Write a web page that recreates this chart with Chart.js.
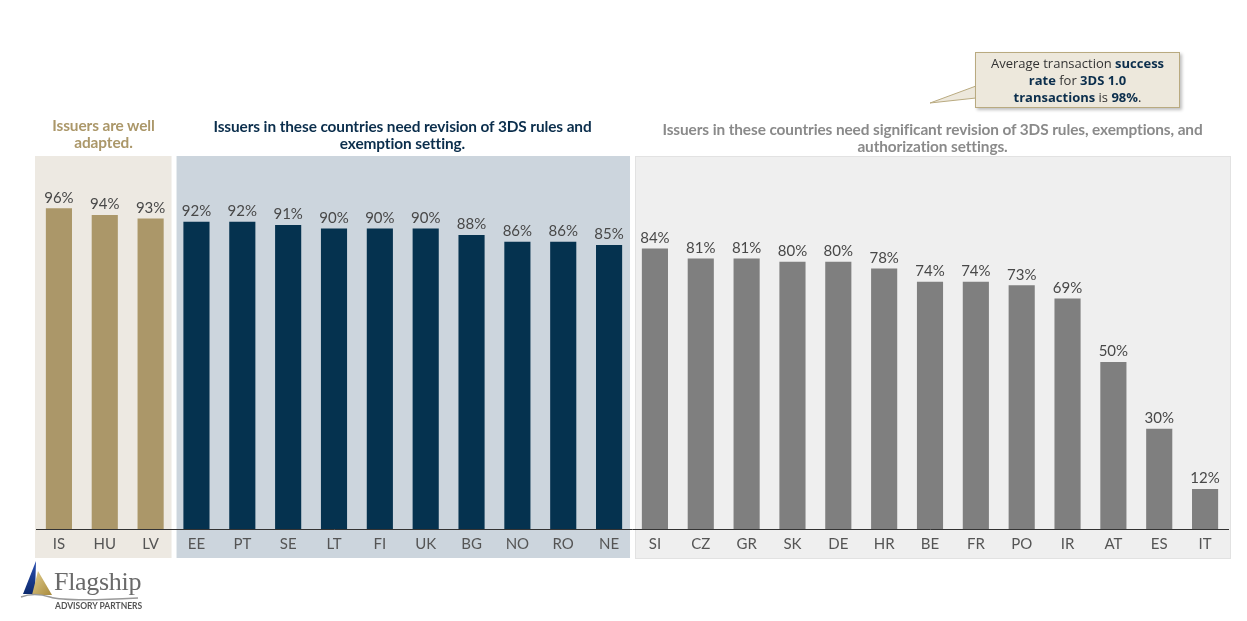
<!DOCTYPE html>
<html>
<head>
<meta charset="utf-8">
<script src="https://cdn.jsdelivr.net/npm/chart.js@4/dist/chart.umd.min.js"></script>
<style>
  body { margin:0; background:#fff; width:1247px; height:621px; position:relative; overflow:hidden; font-family: Lato, sans-serif; }
  #wrap { position:absolute; left:0; top:0; width:1247px; height:621px; }
  .title { position:absolute; font-family: Lato, sans-serif; font-weight:bold; font-size:15.4px; line-height:17px; text-align:center; letter-spacing:-0.1px; }
  #callout { position:absolute; left:975px; top:52px; width:205px; height:56px; background:#ede8dc; border:1px solid #b9aa80; box-shadow:2px 2px 3px rgba(0,0,0,0.25); font-family:"Open Sans", sans-serif; font-size:13px; line-height:17px; text-align:center; color:#333; padding-top:2px; box-sizing:border-box; }
  #callout b { color:#0b2e4c; }
  #logo { position:absolute; left:20px; top:560px; width:130px; height:60px; }
  #logo .name { position:absolute; left:34px; top:7px; font-family:"Liberation Serif", "DejaVu Serif", serif; font-size:26px; color:#6a6a6a; letter-spacing:-0.3px; }
  #logo .sub { position:absolute; left:35px; top:41px; font-family:Lato, sans-serif; font-weight:bold; font-size:8.5px; color:#555; }
</style>
</head>
<body>
<div id="wrap"><canvas id="grafico" width="1247" height="621"></canvas></div>

<div class="title" style="left:25px; top:117px; width:157px; color:#ab9769;">Issuers are well<br>adapted.</div>
<div class="title" style="left:170px; top:118px; width:465px; color:#0b2e4c;">Issuers in these countries need revision of 3DS rules and<br>exemption setting.</div>
<div class="title" style="left:620px; top:121px; width:625px; color:#8a8a8a;">Issuers in these countries need significant revision of 3DS rules, exemptions, and<br>authorization settings.</div>

<svg style="position:absolute;left:0;top:0" width="1247" height="621">
  <polygon points="976,86 930,103 976,98" fill="#ede8dc" stroke="#b9aa80" stroke-width="1"/>
</svg>
<div id="callout">Average transaction <b>success</b><br><b>rate</b> for <b>3DS 1.0</b><br><b>transactions</b> is <b>98%</b>.</div>

<div id="logo">
  <svg width="130" height="45" style="position:absolute;left:0;top:0">
    <defs>
      <linearGradient id="oro" x1="0" y1="0" x2="1" y2="1">
        <stop offset="0" stop-color="#e3cf8f"/><stop offset="1" stop-color="#a88a3c"/>
      </linearGradient>
      <linearGradient id="azul" x1="0" y1="0" x2="0" y2="1">
        <stop offset="0" stop-color="#2a4fb0"/><stop offset="1" stop-color="#0d2a6e"/>
      </linearGradient>
    </defs>
    <polygon points="16,1 3,34 15,34" fill="url(#azul)"/>
    <polygon points="18,11 32,35 12,35" fill="url(#oro)"/>
    <path d="M1,37 Q14,32 30,37 T118,38" stroke="#999" stroke-width="1.5" fill="none"/>
  </svg>
  <div class="name">Flagship</div>
  <div class="sub">ADVISORY PARTNERS</div>
</div>

<script>
const paises = ["IS","HU","LV","EE","PT","SE","LT","FI","UK","BG","NO","RO","NE","SI","CZ","GR","SK","DE","HR","BE","FR","PO","IR","AT","ES","IT"];
const tasas = [96,94,93,92,92,91,90,90,90,88,86,86,85,84,81,81,80,80,78,74,74,73,69,50,30,12];
const grupos = [0,0,0,1,1,1,1,1,1,1,1,1,1,2,2,2,2,2,2,2,2,2,2,2,2,2];
const coloresBarra = ["#ab9769","#05324f","#7f7f7f"];
const coloresFondo = ["#ede9e2","#ccd5dd","#efefef"];

// fondos de cada grupo
const fondos = {
  id: "fondos",
  beforeDraw(chart) {
    const ctx = chart.ctx;
    const x = chart.scales.x;
    const paso = x.getPixelForValue(1) - x.getPixelForValue(0);
    const top = chart.chartArea.top - 39;
    const bottom = chart.chartArea.bottom + 29;
    for (let g = 0; g < 3; g++) {
      const idx = grupos.map((v, i) => v === g ? i : -1).filter(i => i >= 0);
      const izq = x.getPixelForValue(idx[0]) - paso / 2 + (g === 0 ? -1 : 3);
      const der = x.getPixelForValue(idx[idx.length - 1]) + paso / 2 + (g === 2 ? 2 : -2);
      ctx.save();
      ctx.fillStyle = coloresFondo[g];
      ctx.fillRect(izq, top, der - izq, bottom - top);
      if (g === 2) {
        ctx.strokeStyle = "#e2e2e2";
        ctx.lineWidth = 1;
        ctx.strokeRect(izq + 0.5, top + 0.5, der - izq, bottom - top);
      }
      ctx.restore();
    }
  }
};

// etiquetas de valor
const etiquetas = {
  id: "etiquetas",
  afterDatasetsDraw(chart) {
    const ctx = chart.ctx;
    const meta = chart.getDatasetMeta(0);
    ctx.save();
    ctx.font = "15px Lato";
    ctx.fillStyle = "#484848";
    ctx.textAlign = "center";
    ctx.textBaseline = "bottom";
    meta.data.forEach((bar, i) => {
      ctx.fillText(tasas[i] + "%", bar.x, bar.y - 3);
    });
    ctx.restore();
  }
};

const grafico = new Chart(document.getElementById("grafico"), {
  type: "bar",
  data: {
    labels: paises,
    datasets: [{
      data: tasas,
      backgroundColor: grupos.map(g => coloresBarra[g]),
      barPercentage: 0.57,
      categoryPercentage: 1
    }]
  },
  options: {
    responsive: false,
    animation: false,
    layout: { padding: { top: 195, left: 36, right: 19, bottom: 62 } },
    plugins: { legend: { display: false }, tooltip: { enabled: false } },
    scales: {
      x: {
        grid: { display: false, drawTicks: false },
        border: { display: true, color: "#333", width: 1 },
        ticks: { color: "#555", font: { family: "Lato", size: 15 }, padding: 6, maxRotation: 0, autoSkip: false }
      },
      y: { display: false, min: 0, max: 100 }
    }
  },
  plugins: [fondos, etiquetas]
});
</script>
</body>
</html>
